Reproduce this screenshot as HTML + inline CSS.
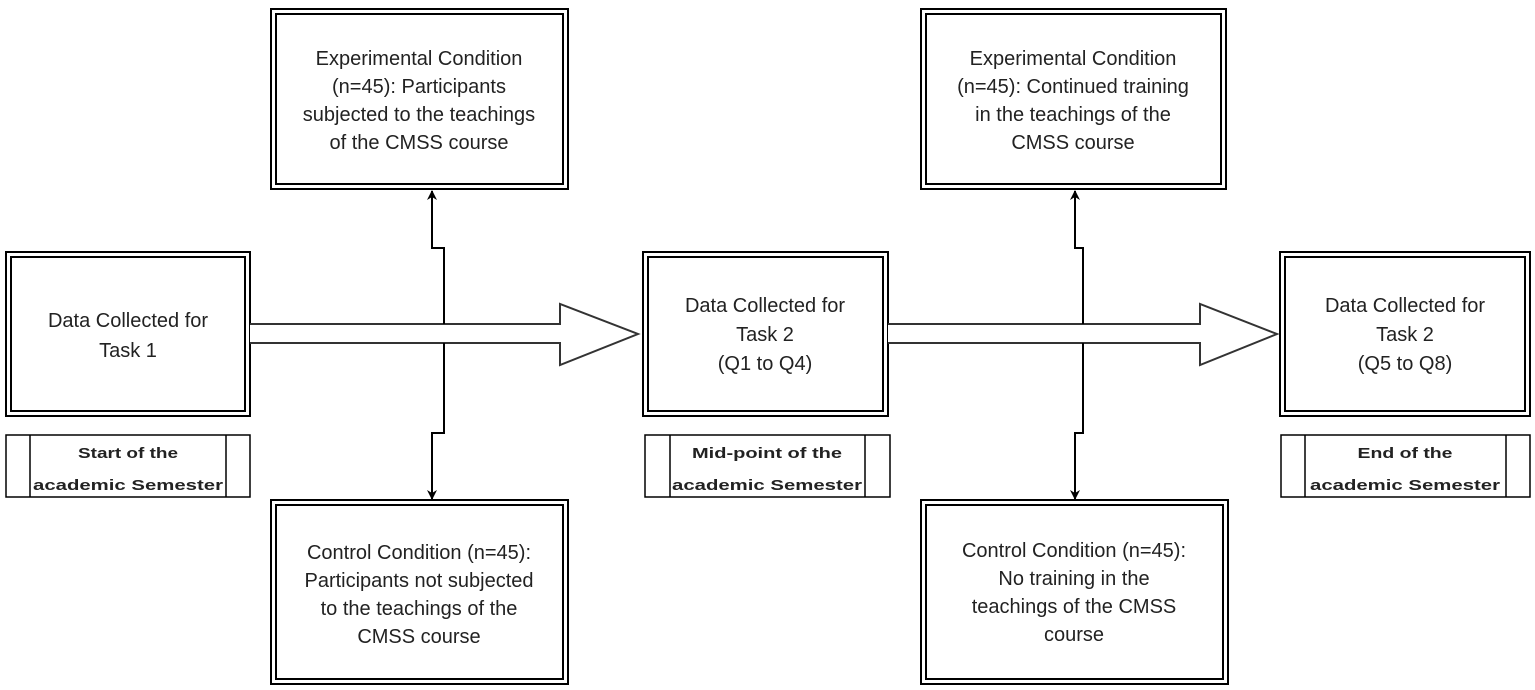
<!DOCTYPE html>
<html><head><meta charset="utf-8"><style>
html,body{margin:0;padding:0;background:#fff;}
svg{display:block;}
text{font-family:"Liberation Sans",Arial,sans-serif;fill:#222;}
.t{font-size:20px;text-anchor:middle;}
.l{font-size:14.5px;font-weight:bold;text-anchor:middle;}
</style></head><body>
<svg width="1535" height="690" viewBox="0 0 1535 690" xmlns="http://www.w3.org/2000/svg">
<defs>
<marker id="ah" markerWidth="10" markerHeight="10" refX="9" refY="5" orient="auto" markerUnits="userSpaceOnUse">
<path d="M0,0 L10,5 L0,10 L3,5 Z" fill="#000"/>
</marker>
</defs>
<g fill="none" stroke="#000" stroke-width="2">
<!-- double boxes -->
<rect x="6" y="252" width="244" height="164"/><rect x="11" y="257" width="234" height="154"/>
<rect x="643" y="252" width="245" height="164"/><rect x="648" y="257" width="235" height="154"/>
<rect x="1280" y="252" width="250" height="164"/><rect x="1285" y="257" width="240" height="154"/>
<rect x="271" y="9" width="297" height="180"/><rect x="276" y="14" width="287" height="170"/>
<rect x="921" y="9" width="305" height="180"/><rect x="926" y="14" width="295" height="170"/>
<rect x="271" y="500" width="297" height="184"/><rect x="276" y="505" width="287" height="174"/>
<rect x="921" y="500" width="307" height="184"/><rect x="926" y="505" width="297" height="174"/>
</g>
<g fill="none" stroke="#000" stroke-width="1.5">
<!-- label boxes -->
<rect x="6" y="435" width="244" height="62"/><line x1="30" y1="435" x2="30" y2="497"/><line x1="226" y1="435" x2="226" y2="497"/>
<rect x="645" y="435" width="245" height="62"/><line x1="670" y1="435" x2="670" y2="497"/><line x1="865" y1="435" x2="865" y2="497"/>
<rect x="1281" y="435" width="249" height="62"/><line x1="1305" y1="435" x2="1305" y2="497"/><line x1="1506" y1="435" x2="1506" y2="497"/>
</g>
<!-- big arrows -->
<g fill="#fff" stroke="#333" stroke-width="2">
<path d="M250,324 L560,324 L560,304 L638,334 L560,365 L560,343 L250,343"/>
<path d="M888,324 L1200,324 L1200,304 L1277,334 L1200,365 L1200,343 L888,343"/>
</g>
<!-- vertical connectors -->
<g fill="none" stroke="#000" stroke-width="2">
<path d="M444,324 L444,248 L432,248 L432,191" marker-end="url(#ah)"/>
<path d="M444,343 L444,433 L432,433 L432,499" marker-end="url(#ah)"/>
<path d="M1083,324 L1083,248 L1075,248 L1075,191" marker-end="url(#ah)"/>
<path d="M1083,343 L1083,433 L1075,433 L1075,499" marker-end="url(#ah)"/>
</g>
<!-- texts -->
<text class="t" x="128" y="327">Data Collected for</text>
<text class="t" x="128" y="357">Task 1</text>
<text class="t" x="765" y="312">Data Collected for</text>
<text class="t" x="765" y="341">Task 2</text>
<text class="t" x="765" y="370">(Q1 to Q4)</text>
<text class="t" x="1405" y="312">Data Collected for</text>
<text class="t" x="1405" y="341">Task 2</text>
<text class="t" x="1405" y="370">(Q5 to Q8)</text>
<text class="t" x="419" y="65">Experimental Condition</text>
<text class="t" x="419" y="93">(n=45): Participants</text>
<text class="t" x="419" y="121">subjected to the teachings</text>
<text class="t" x="419" y="149">of the CMSS course</text>
<text class="t" x="1073" y="65">Experimental Condition</text>
<text class="t" x="1073" y="93">(n=45): Continued training</text>
<text class="t" x="1073" y="121">in the teachings of the</text>
<text class="t" x="1073" y="149">CMSS course</text>
<text class="t" x="419" y="559">Control Condition (n=45):</text>
<text class="t" x="419" y="587">Participants not subjected</text>
<text class="t" x="419" y="615">to the teachings of the</text>
<text class="t" x="419" y="643">CMSS course</text>
<text class="t" x="1074" y="557">Control Condition (n=45):</text>
<text class="t" x="1074" y="585">No training in the</text>
<text class="t" x="1074" y="613">teachings of the CMSS</text>
<text class="t" x="1074" y="641">course</text>
<text class="l" x="128" y="458" textLength="100" lengthAdjust="spacingAndGlyphs">Start of the</text>
<text class="l" x="128" y="490" textLength="190" lengthAdjust="spacingAndGlyphs">academic Semester</text>
<text class="l" x="767" y="458" textLength="150" lengthAdjust="spacingAndGlyphs">Mid-point of the</text>
<text class="l" x="767" y="490" textLength="190" lengthAdjust="spacingAndGlyphs">academic Semester</text>
<text class="l" x="1405" y="458" textLength="95" lengthAdjust="spacingAndGlyphs">End of the</text>
<text class="l" x="1405" y="490" textLength="190" lengthAdjust="spacingAndGlyphs">academic Semester</text>
</svg>
</body></html>
